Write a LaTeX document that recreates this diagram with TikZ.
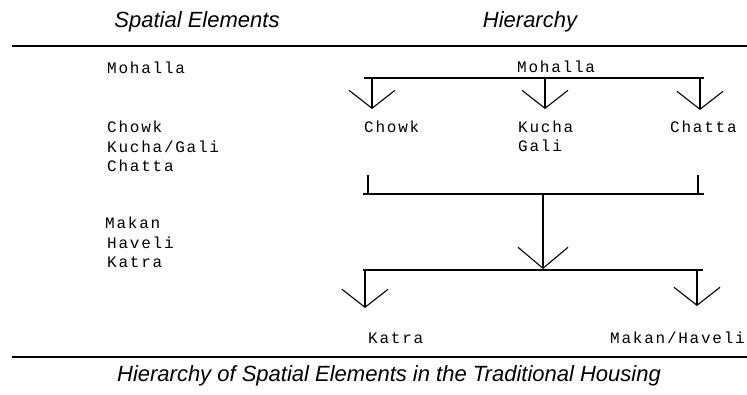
\documentclass[tikz,border=0pt]{standalone}
\usepackage{fontspec}
\newfontfamily\hfont{Liberation Sans}
\newfontfamily\monofont{Liberation Mono}[LetterSpace=11]
\usetikzlibrary{arrows.meta}
\begin{document}
\begin{tikzpicture}[x=1pt,y=-1pt,
  rule/.style={line width=1.3pt},
  bar/.style={line width=1.4pt},
  tick/.style={line width=1.1pt},
  drop/.style={line width=1.1pt,-{Straight Barb[length=18pt,width=46pt,line width=1.1pt]}},
  bigdrop/.style={line width=1.1pt,-{Straight Barb[length=21pt,width=50pt,line width=1.1pt]}},
  head/.style={font=\hfont\itshape\fontsize{22}{26}\selectfont, inner sep=0, anchor=base},
  lab/.style={font=\monofont\fontsize{16}{19.5}\selectfont, inner sep=0, anchor=base west},
]
\useasboundingbox (0,0) rectangle (747,394);
% headers
\node[head] (hSE) at (197,27) {Spatial Elements};
\node[head] (hH) at (530,27) {Hierarchy};
% rules
\coordinate (t1) at (12,46); \coordinate (t2) at (747,46);
\coordinate (u1) at (12,357); \coordinate (u2) at (747,357);
\draw[rule] (t1) -- (t2);
\draw[rule] (u1) -- (u2);
% left column
\node[lab] (lMoh) at (107,73) {Mohalla};
\node[lab] (lChowk) at (107,132) {Chowk};
\node[lab] (lKucha) at (107,152) {Kucha/Gali};
\node[lab] (lChatta) at (107,171) {Chatta};
\node[lab] (lMakan) at (105,228) {Makan};
\node[lab] (lHaveli) at (107,248) {Haveli};
\node[lab] (lKatra) at (107,267) {Katra};
% right hierarchy labels
\node[lab] (rMoh) at (517,72) {Mohalla};
\node[lab] (rChowk) at (364,132) {Chowk};
\node[lab] (rKucha) at (518,132) {Kucha};
\node[lab] (rGali) at (518,151) {Gali};
\node[lab] (rChatta) at (670,132) {Chatta};
\node[lab] (rKatra) at (368,343) {Katra};
\node[lab] (rMakan) at (610,343) {Makan/Haveli};
% bar 1
\coordinate (b1l) at (364,78); \coordinate (b1r) at (704,78);
\coordinate (b1a) at (372,78); \coordinate (b1b) at (545,78); \coordinate (b1c) at (700,78);
\coordinate (ta) at (372,109); \coordinate (tb) at (545,109); \coordinate (tc) at (700,110);
\draw[bar] (b1l) -- (b1r);
\draw[drop] (b1a) -- (ta);
\draw[drop] (b1b) -- (tb);
\draw[drop] (b1c) -- (tc);
% bracket
\coordinate (k1) at (368,175); \coordinate (k1b) at (368,194);
\coordinate (k2) at (698,175); \coordinate (k2b) at (698,194);
\coordinate (b2l) at (363,194); \coordinate (b2r) at (704,194);
\coordinate (b2m) at (543,194); \coordinate (tm) at (543,269);
\draw[tick] (k1) -- (k1b);
\draw[tick] (k2) -- (k2b);
\draw[bar] (b2l) -- (b2r);
\draw[bigdrop] (b2m) -- (tm);
% bar 2
\coordinate (b3l) at (363,270); \coordinate (b3r) at (703,270);
\coordinate (b3a) at (365,270); \coordinate (b3b) at (697,270);
\coordinate (td) at (365,308); \coordinate (te) at (697,306);
\draw[bar] (b3l) -- (b3r);
\draw[drop] (b3a) -- (td);
\draw[drop] (b3b) -- (te);
% caption
\node[head] (cap) at (389,381) {Hierarchy of Spatial Elements in the Traditional Housing};
\end{tikzpicture}
\end{document}
